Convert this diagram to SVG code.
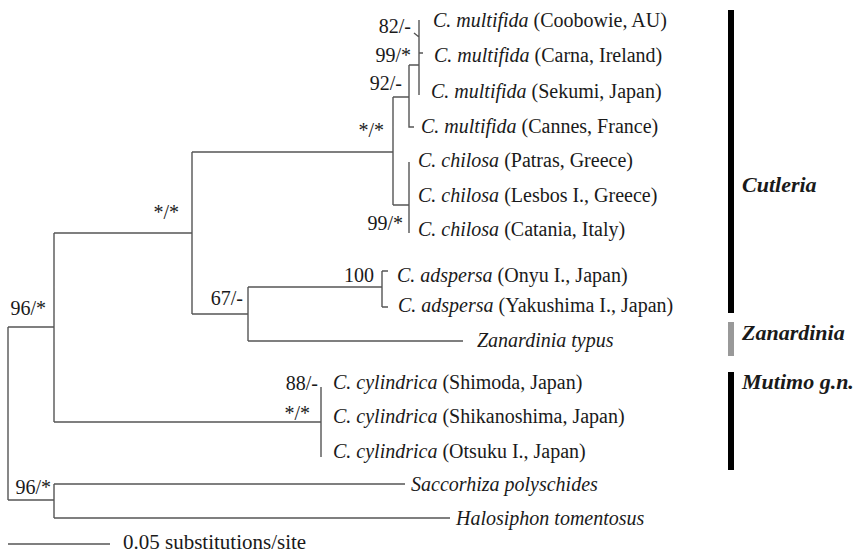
<svg xmlns="http://www.w3.org/2000/svg" width="859" height="554" viewBox="0 0 859 554">
<style>
.br{stroke:#555;stroke-width:1.4;fill:none}
text{font-family:"Liberation Serif","Times New Roman",serif;fill:#1a1a1a}
.sp{font-size:20px}
.bs{font-size:20px;text-anchor:end}
.i{font-style:italic}
.grp{font-size:22px;font-weight:bold;font-style:italic}
.sc{font-size:21px}
</style>
<rect width="859" height="554" fill="#fff"/>
<g id="connectors" class="br">
<path d="M8,327V500M8,327H54M54,233V422M54,233H192M192,152V314M192,152H393M393,97V205M393,97H409M409,65V127H414M409,65H419M419,20V95M414,33L419,37M419,53H423M393,205H409M409,162V233M192,314H248M248,287V341M248,287H382M382,271V307M382,271H388M382,307H388M248,341H463M54,422H321M321,387V457M8,500H54M54,484V518M54,484H405M54,518H450"/>
<path d="M8,544H110"/>
</g>
<g id="bootstrap">
<text class="bs" x="411" y="33">82/-</text>
<text class="bs" x="411" y="62">99/*</text>
<text class="bs" x="402" y="90">92/-</text>
<text class="bs" x="384" y="137">*/*</text>
<text class="bs" x="403" y="230">99/*</text>
<text class="bs" x="179" y="219">*/*</text>
<text class="bs" x="46" y="315">96/*</text>
<text class="bs" x="243" y="305">67/-</text>
<text class="bs" x="374" y="282">100</text>
<text class="bs" x="318" y="390">88/-</text>
<text class="bs" x="310" y="420">*/*</text>
<text class="bs" x="51" y="494">96/*</text>
</g>
<g id="n-coobowie"><text class="sp" x="433" y="27"><tspan class="i">C. multifida</tspan> (Coobowie, AU)</text></g>
<g id="n-carna"><text class="sp" x="434" y="62"><tspan class="i">C. multifida</tspan> (Carna, Ireland)</text></g>
<g id="n-sekumi"><text class="sp" x="431" y="98"><tspan class="i">C. multifida</tspan> (Sekumi, Japan)</text></g>
<g id="n-cannes"><text class="sp" x="421" y="133"><tspan class="i">C. multifida</tspan> (Cannes, France)</text></g>
<g id="n-patras"><text class="sp" x="418" y="167"><tspan class="i">C. chilosa</tspan> (Patras, Greece)</text></g>
<g id="n-lesbos"><text class="sp" x="418" y="202"><tspan class="i">C. chilosa</tspan> (Lesbos I., Greece)</text></g>
<g id="n-catania"><text class="sp" x="418" y="236"><tspan class="i">C. chilosa</tspan> (Catania, Italy)</text></g>
<g id="n-onyu"><text class="sp" x="397" y="282"><tspan class="i">C. adspersa</tspan> (Onyu I., Japan)</text></g>
<g id="n-yakushima"><text class="sp" x="398" y="312"><tspan class="i">C. adspersa</tspan> (Yakushima I., Japan)</text></g>
<g id="n-zanardinia"><text class="sp i" x="477" y="347">Zanardinia typus</text></g>
<g id="n-shimoda"><text class="sp" x="333" y="389"><tspan class="i">C. cylindrica</tspan> (Shimoda, Japan)</text></g>
<g id="n-shikanoshima"><text class="sp" x="333" y="423"><tspan class="i">C. cylindrica</tspan> (Shikanoshima, Japan)</text></g>
<g id="n-otsuku"><text class="sp" x="333" y="458"><tspan class="i">C. cylindrica</tspan> (Otsuku I., Japan)</text></g>
<g id="n-saccorhiza"><text class="sp i" x="411" y="491">Saccorhiza polyschides</text></g>
<g id="n-halosiphon"><text class="sp i" x="456" y="525">Halosiphon tomentosus</text></g>
<g id="scale"><text class="sc" x="123" y="549">0.05 substitutions/site</text></g>
<g id="g-cutleria"><rect x="728" y="10" width="6" height="303" fill="#000"/><text class="grp" x="742" y="192">Cutleria</text></g>
<g id="g-zanardinia"><rect x="728" y="322" width="6" height="34" fill="#999"/><text class="grp" x="742" y="340">Zanardinia</text></g>
<g id="g-mutimo"><rect x="728" y="372" width="6" height="98" fill="#000"/><text class="grp" x="742" y="389">Mutimo g.n.</text></g>
</svg>
